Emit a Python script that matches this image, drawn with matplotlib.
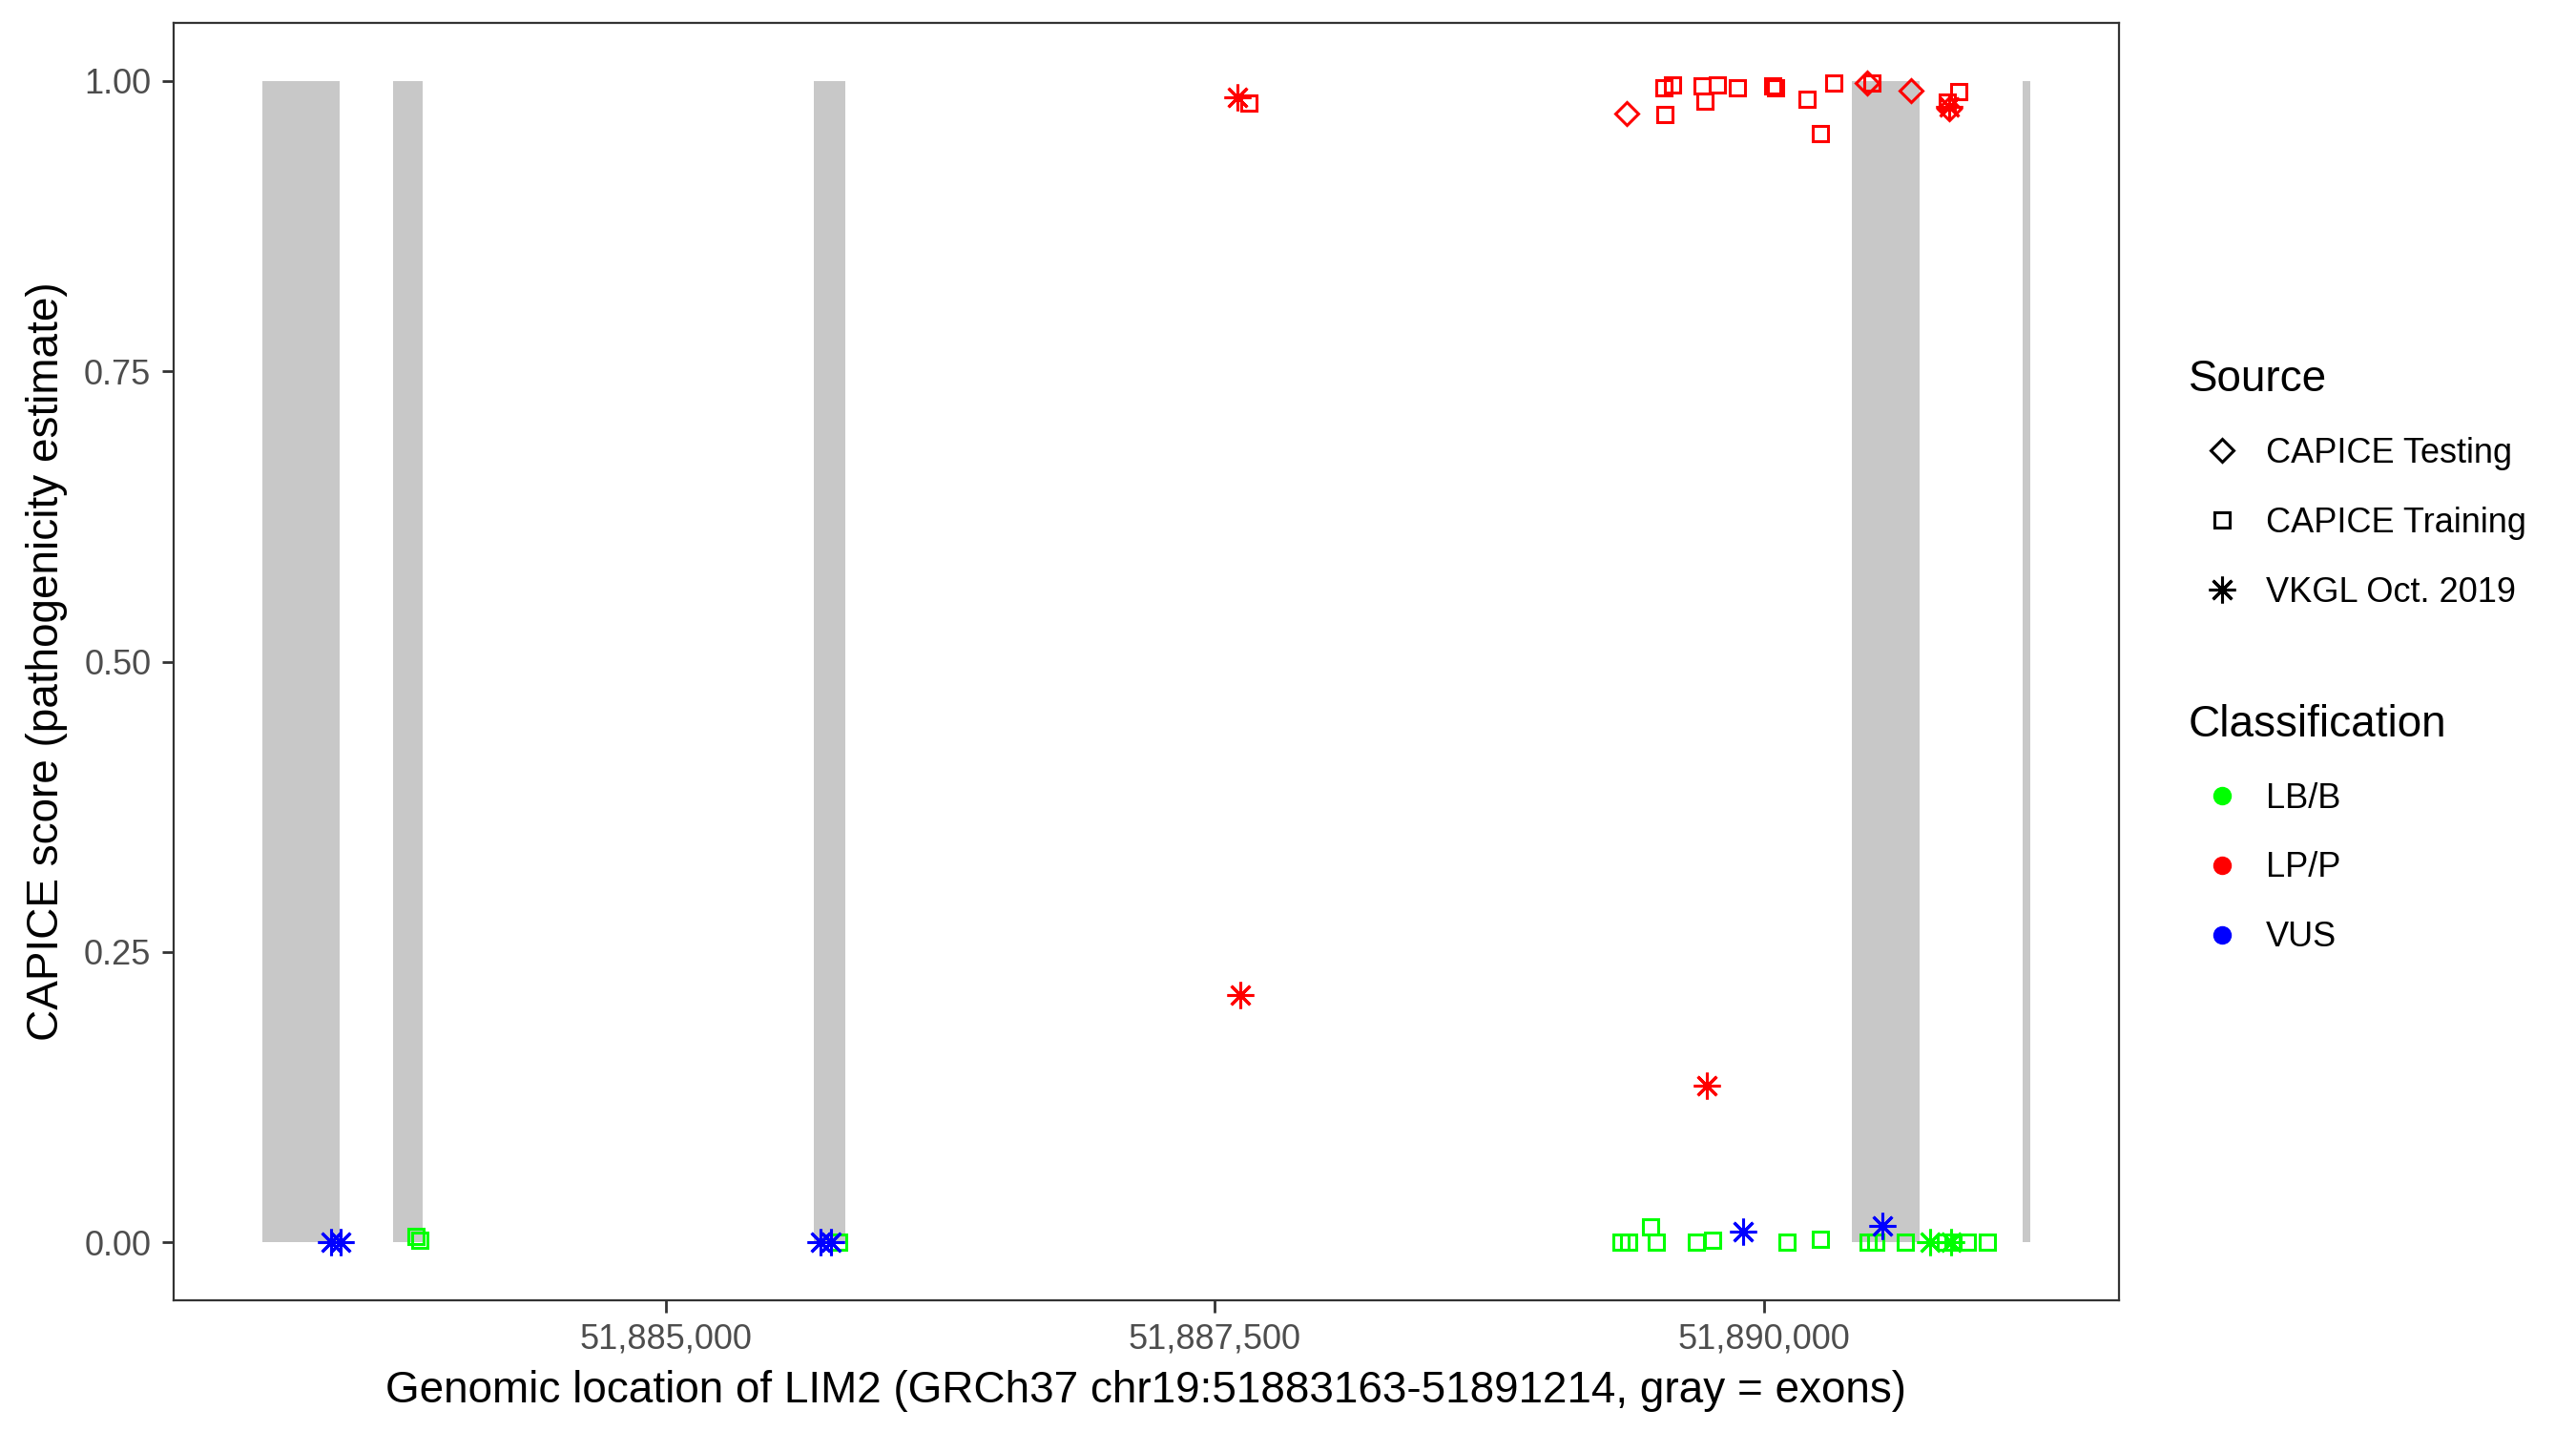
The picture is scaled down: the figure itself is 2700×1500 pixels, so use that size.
import numpy as np
import matplotlib.pyplot as plt
import pandas as pd
from matplotlib.lines import Line2D
from matplotlib.ticker import FuncFormatter

plt.rcParams['font.family'] = ['Liberation Sans', 'DejaVu Sans']

# LIM2 region and exons (GRCh37, chr19)
gene_start = 51883163
gene_end = 51891214
exon_start = [51883163, 51883758, 51885673, 51890401, 51891179]
exon_end = [51883515, 51883892, 51885820, 51890710, 51891214]

# variants
positions = [
    # VKGL Oct. 2019
    51883478, 51883520, 51885707, 51885751, 51887605, 51887618, 51889741,
    51889906, 51890540, 51890757, 51890853, 51890844,
    # CAPICE Training
    51883862, 51883879, 51885786, 51887657, 51889546, 51889585, 51889550,
    51889720, 51889733, 51889789, 51889880, 51890041, 51890054, 51890197,
    51890258, 51890319, 51890492, 51890888, 51890836,
    51889351, 51889385, 51889485, 51889511, 51889694, 51889767, 51890106,
    51890258, 51890475, 51890510, 51890645, 51890827, 51890862, 51890927,
    51891018,
    # CAPICE Testing
    51889377, 51890471, 51890671, 51890844,
]
scores = [
    0.0, 0.0, 0.0, 0.0, 0.986, 0.213, 0.135,
    0.009, 0.014, 0.0, 0.0, 0.978,
    0.005, 0.002, 0.0, 0.981, 0.994, 0.997, 0.971,
    0.996, 0.983, 0.997, 0.994, 0.996, 0.994, 0.984,
    0.955, 0.998, 0.998, 0.991, 0.982,
    0.0, 0.0, 0.013, 0.0, 0.0, 0.002, 0.0,
    0.003, 0.0, 0.0, 0.0, 0.0, 0.0, 0.0,
    0.0,
    0.972, 0.998, 0.992, 0.976,
]
sources = (['VKGL Oct. 2019'] * 12 + ['CAPICE Training'] * 34
           + ['CAPICE Testing'] * 4)
classes = [
    'VUS', 'VUS', 'VUS', 'VUS', 'LP/P', 'LP/P', 'LP/P',
    'VUS', 'VUS', 'LB/B', 'LB/B', 'LP/P',
    'LB/B', 'LB/B', 'LB/B', 'LP/P', 'LP/P', 'LP/P', 'LP/P',
    'LP/P', 'LP/P', 'LP/P', 'LP/P', 'LP/P', 'LP/P', 'LP/P',
    'LP/P', 'LP/P', 'LP/P', 'LP/P', 'LP/P',
    'LB/B', 'LB/B', 'LB/B', 'LB/B', 'LB/B', 'LB/B', 'LB/B',
    'LB/B', 'LB/B', 'LB/B', 'LB/B', 'LB/B', 'LB/B', 'LB/B',
    'LB/B',
    'LP/P', 'LP/P', 'LP/P', 'LP/P',
]

source_names = ['CAPICE Testing', 'CAPICE Training', 'VKGL Oct. 2019']
class_names = ['LB/B', 'LP/P', 'VUS']

variants = pd.DataFrame({'pos': positions, 'score': scores,
                         'source': sources, 'cls': classes})

markers = {'CAPICE Testing': ('D', 12.5), 'CAPICE Training': ('s', 11.5),
           'VKGL Oct. 2019': ((8, 2, 0), 20)}
colors = {'LB/B': '#00ff00', 'LP/P': '#ff0000', 'VUS': '#0000ff'}

fig = plt.figure(figsize=(27, 15), dpi=100)
ax = fig.add_axes([0.0674, 0.0913, 0.7552, 0.8927])

# exons as gray blocks
ax.bar(exon_start, 1, width=np.array(exon_end) - np.array(exon_start),
       align='edge', bottom=0, color='#c8c8c8', linewidth=0, zorder=1)

for src in source_names:
    mk, ms = markers[src]
    for cls in class_names:
        d = variants[(variants.source == src) & (variants.cls == cls)]
        if len(d) == 0:
            continue
        ax.plot(d.pos, d.score, linestyle='none', marker=mk, markersize=ms,
                markerfacecolor='none', markeredgecolor=colors[cls],
                markeredgewidth=2.2, zorder=3)

pad = 0.05 * (gene_end - gene_start)
ax.set_xlim(gene_start - pad, gene_end + pad)
ax.set_ylim(-0.05, 1.05)
ax.set_xticks([51885000, 51887500, 51890000])
ax.set_yticks([0, 0.25, 0.5, 0.75, 1.0])
ax.xaxis.set_major_formatter(FuncFormatter(lambda v, p: f'{int(v):,}'))
ax.yaxis.set_major_formatter(FuncFormatter(lambda v, p: f'{v:.2f}'))
ax.tick_params(length=9, width=2, color='#333333', labelsize=26,
               labelcolor='#4d4d4d', pad=8)
for s in ax.spines.values():
    s.set_color('#333333')
    s.set_linewidth(1.6)

ax.set_xlabel('Genomic location of LIM2 (GRCh37 chr19:51883163-51891214, gray = exons)',
              fontsize=33, labelpad=10)
ax.set_ylabel('CAPICE score (pathogenicity estimate)', fontsize=33, labelpad=12)

src_handles = [Line2D([], [], linestyle='none', marker=markers[s][0],
                      markersize=markers[s][1], markerfacecolor='none',
                      markeredgecolor='black', markeredgewidth=2.2)
               for s in source_names]
cls_handles = [Line2D([], [], linestyle='none', marker='o', markersize=13,
                      markerfacecolor=colors[c], markeredgecolor=colors[c])
               for c in class_names]

legend_kw = dict(loc='upper left', frameon=False, fontsize=26,
                 title_fontsize=33, alignment='left', borderpad=0.5,
                 handlelength=1.94, handletextpad=0.3, labelspacing=1.05)
fig.legend(src_handles, source_names, title='Source',
           bbox_to_anchor=(0.8363, 0.7733), **legend_kw)
fig.legend(cls_handles, class_names, title='Classification',
           bbox_to_anchor=(0.8363, 0.5323), **legend_kw)

fig.savefig('out.png', dpi=100)
